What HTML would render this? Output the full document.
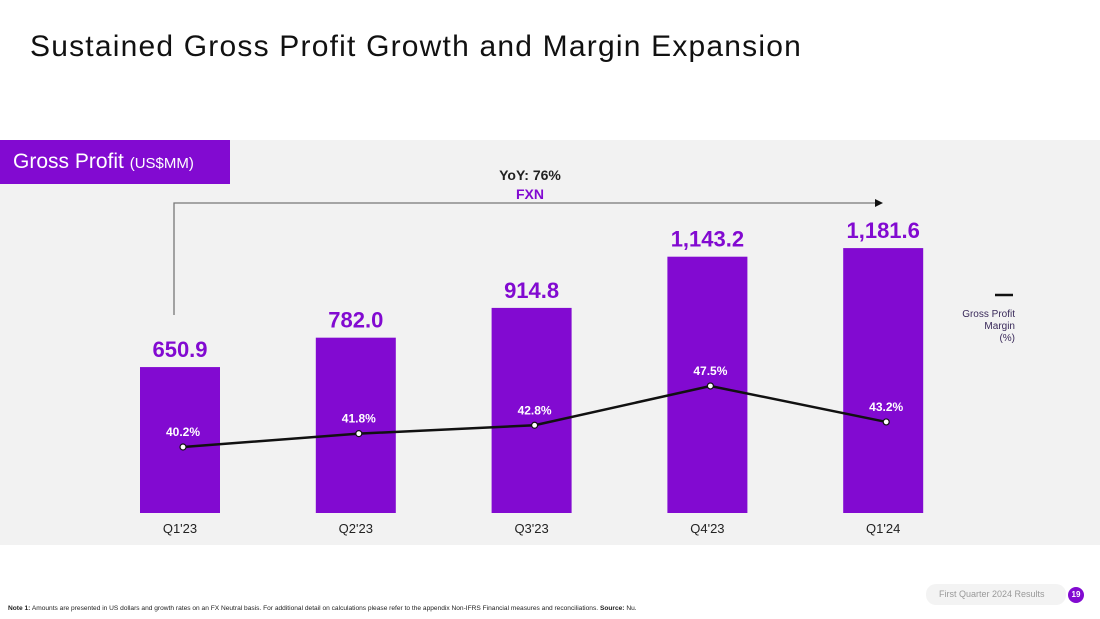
<!DOCTYPE html>
<html><head><meta charset="utf-8"><style>
body{margin:0;width:1100px;height:619px;background:#fff;font-family:"Liberation Sans",sans-serif;overflow:hidden;position:relative}
.title{position:absolute;left:30px;top:30px;font-size:30px;color:#111;letter-spacing:1.2px}
.panel{position:absolute;left:0;top:140px;width:1100px;height:405px;background:#f2f2f2}
.tag{position:absolute;left:0;top:140px;width:230px;height:44px;background:#820ad1;color:#fff;font-size:21px;line-height:44px;padding-left:13px;box-sizing:border-box}
.tag small{font-size:15px}
.note{position:absolute;left:8px;top:605px;font-size:6.6px;color:#222;white-space:nowrap}
.foot{position:absolute;left:926px;top:584px;width:140px;height:21px;border-radius:10px;background:#f3f3f3;font-size:9px;color:#999;line-height:21px;padding-left:13px;box-sizing:border-box}
.pg{position:absolute;left:1068px;top:587px;width:16px;height:16px;border-radius:8px;background:#820ad1;color:#fff;font-size:8px;font-weight:bold;text-align:center;line-height:16px}
</style></head><body>
<div class="title">Sustained Gross Profit Growth and Margin Expansion</div>
<div class="panel"></div>
<div class="tag">Gross Profit <small>(US$MM)</small></div>
<svg id="chart" width="1100" height="619" style="position:absolute;left:0;top:0"></svg>
<div class="note"><b>Note 1:</b> Amounts are presented in US dollars and growth rates on an FX Neutral basis. For additional detail on calculations please refer to the appendix Non-IFRS Financial measures and reconciliations. <b>Source:</b> Nu.</div>
<div class="foot">First Quarter 2024 Results</div>
<div class="pg">19</div>
<script>
const categories=["Q1'23","Q2'23","Q3'23","Q4'23","Q1'24"];
const grossProfit=[650.9,782.0,914.8,1143.2,1181.6];
const grossProfitLabels=["650.9","782.0","914.8","1,143.2","1,181.6"];
const margin=[40.2,41.8,42.8,47.5,43.2];
const ns="http://www.w3.org/2000/svg";
const svg=document.getElementById('chart');
function mk(t,a,p){const e=document.createElementNS(ns,t);for(const k in a)e.setAttribute(k,a[k]);(p||svg).appendChild(e);return e;}
const x=i=>180+i*175.8;
const yB=v=>513-v*0.2242;
const yM=v=>447-(v-40.2)*8.36;
let ar=mk('path',{d:'M174 315 V203 H876',fill:'none',stroke:'#777','stroke-width':1.3});

let ah=mk('path',{d:'M883 203 L875 199 L875 207 Z',fill:'#111'});

let t1=mk('text',{x:530,y:180,'text-anchor':'middle','font-size':14,'font-weight':'bold',fill:'#222'});t1.textContent='YoY: 76%';

let t2=mk('text',{x:530,y:199,'text-anchor':'middle','font-size':14,'font-weight':'bold',fill:'#820ad1'});t2.textContent='FXN';

categories.forEach((c,i)=>{
  const r=mk('rect',{x:x(i)-40,y:yB(grossProfit[i]),width:80,height:yB(0)-yB(grossProfit[i]),fill:'#820ad1'});
  
  const v=mk('text',{x:x(i),y:yB(grossProfit[i])-10,'text-anchor':'middle','font-size':22,'font-weight':'bold',fill:'#820ad1'});
  v.textContent=grossProfitLabels[i];
  
  const l=mk('text',{x:x(i),y:533,'text-anchor':'middle','font-size':13,fill:'#222'});l.textContent=c;
  
});
const pts=margin.map((m,i)=>[x(i)+3,yM(m)]);
const ln=mk('polyline',{points:pts.map(p=>p.join(',')).join(' '),fill:'none',stroke:'#111','stroke-width':2.5});

pts.forEach((p,i)=>{
  const c=mk('circle',{cx:p[0],cy:p[1],r:3,fill:'#fff',stroke:'#111','stroke-width':1.2});
  
  const t=mk('text',{x:p[0],y:p[1]-11,'text-anchor':'middle','font-size':12,'font-weight':'bold',fill:'#fff'});
  t.textContent=margin[i].toFixed(1)+'%';
  
});
const lg=mk('line',{x1:995,y1:295,x2:1013,y2:295,stroke:'#111','stroke-width':2.5});

["Gross Profit","Margin","(%)"].forEach((s,i)=>{
  const t=mk('text',{x:1015,y:317+i*12,'text-anchor':'end','font-size':10,fill:'#3a2a5a'});t.textContent=s;
  
});
</script>
</body></html>
